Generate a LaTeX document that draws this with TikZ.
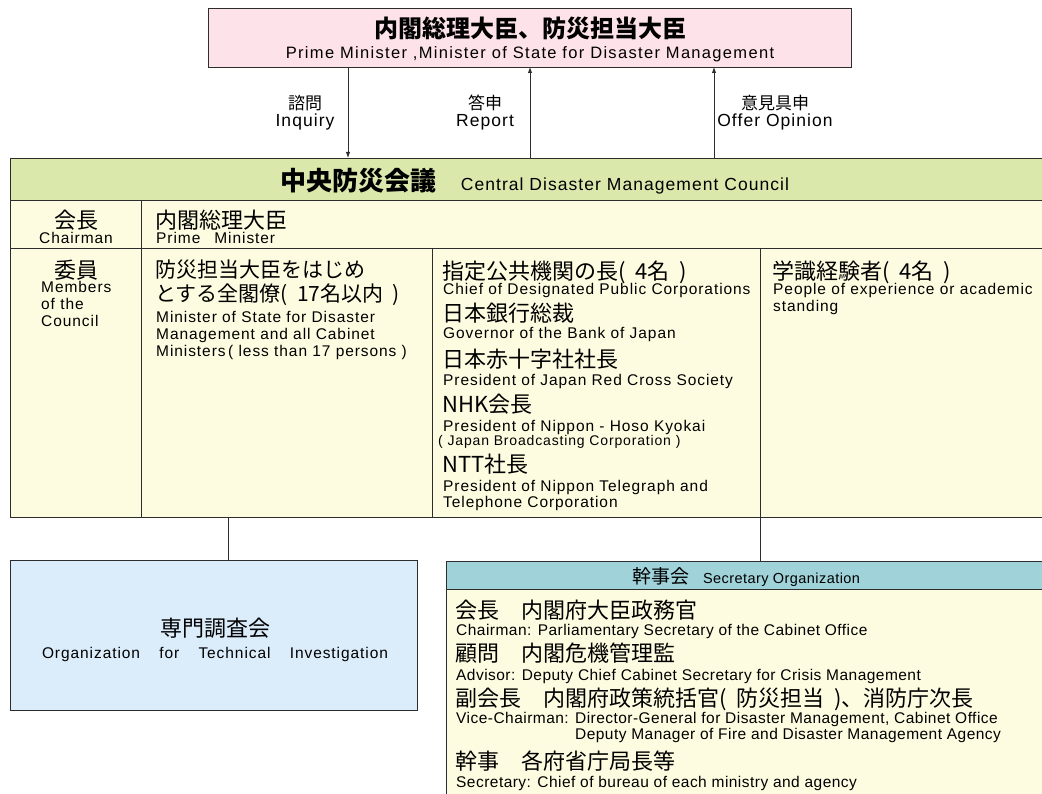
\documentclass[tikz,border=0pt]{standalone}
\usepackage{fontspec}
\setmainfont{Liberation Sans}
\newfontfamily\jpf{Noto Sans CJK JP}
\newfontfamily\enlf[LetterSpace=6]{Liberation Sans}
\newfontfamily\enwf[LetterSpace=8]{Liberation Sans}
\newfontfamily\enmf[LetterSpace=3]{Liberation Sans}
\usetikzlibrary{arrows.meta}
\definecolor{pinkfill}{RGB}{253,226,234}
\definecolor{greenhead}{RGB}{219,232,172}
\definecolor{yellowfill}{RGB}{254,252,224}
\definecolor{bluefill}{RGB}{219,236,250}
\definecolor{tealhead}{RGB}{159,210,217}
\definecolor{linec}{RGB}{45,45,45}
\newcommand\psp{\hspace{0.45em}}
\tikzset{
  box/.style={draw=linec, line width=1pt, inner sep=0pt, anchor=north west},
  conn/.style={draw=linec, line width=0.9pt},
  arr/.style={conn, -{Latex[length=6pt,width=4.5pt]}},
  tl/.style={anchor=base west, inner sep=0pt},
  tcn/.style={anchor=base, inner sep=0pt},
  jpb/.style={font=\jpf\fontsize{22}{24}\selectfont},
  jpm/.style={font=\jpf\fontsize{21}{24}\selectfont},
  jps/.style={font=\jpf\fontsize{17}{19}\selectfont},
  enb/.style={font=\enlf\fontsize{15.5}{17}\selectfont},
  enl/.style={font=\enlf\fontsize{17.5}{19}\selectfont},
  ens/.style={font=\enmf\fontsize{15.5}{17}\selectfont},
}
\begin{document}
\begin{tikzpicture}[x=1pt,y=-1pt]
\useasboundingbox (0,0) rectangle (1042,794);
% ---------- top box
\node[box, fill=pinkfill, minimum width=643pt, minimum height=59pt] (pm) at (208,8) {};
\node[tcn, font=\jpf\bfseries\fontsize{24}{26}\selectfont] (pmjp) at (530,38) {内閣総理大臣、防災担当大臣};
\node[tcn, font=\enwf\fontsize{16.5}{18}\selectfont] (pmen) at (530,59) {Prime Minister ,Minister of State for Disaster Management};
% ---------- council
\node[box, fill=yellowfill, minimum width=1035pt, minimum height=359pt] (council) at (10,158) {};
\node[box, fill=greenhead, minimum width=1035pt, minimum height=42pt] (chead) at (10,158) {};
\node[box, minimum width=1035pt, minimum height=48pt] (chrow) at (10,200) {};
\node[box, minimum width=1035pt, minimum height=269pt] (mrow) at (10,248) {};
\coordinate (d1t) at (141,200);
\coordinate (d2t) at (432,248);
\coordinate (d3t) at (760,248);
\draw[conn] (d1t) -- (d1t |- mrow.south);
\draw[conn] (d2t) -- (d2t |- mrow.south);
\draw[conn] (d3t) -- (d3t |- mrow.south);
\node[tcn] (cheadtxt) at (535,191) {{\jpf\bfseries\fontsize{26}{28}\selectfont 中央防災会議}\hspace{24pt}{\enlf\fontsize{17.5}{19}\selectfont Central Disaster Management Council}};
% arrows
\coordinate (a1) at (348,67);
\coordinate (a2) at (530,67);
\coordinate (a3) at (714,67);
\draw[arr] (a1) -- (a1 |- chead.north);
\draw[arr] (a2 |- chead.north) -- (a2);
\draw[arr] (a3 |- chead.north) -- (a3);
\node[tcn, jps] (l1a) at (305,110) {諮問};
\node[tcn, enl] (l1b) at (305,127) {Inquiry};
\node[tcn, jps] (l2a) at (485,110) {答申};
\node[tcn, enl] (l2b) at (485,127) {Report};
\node[tcn, jps] (l3a) at (775,110) {意見具申};
\node[tcn, enl] (l3b) at (775,127) {Offer Opinion};
% chairman row
\node[tcn, jpb] (kaicho) at (76,229) {会長};
\node[tcn, enb] (chairman) at (76,244) {Chairman};
\node[tl, jpb] (pmname) at (155,229) {内閣総理大臣};
\node[tl, enb] (pmnameen) at (156,244) {Prime\hspace{14pt}Minister};
% members column 1
\node[tcn, jpb] (iin) at (76,279) {委員};
\node[tl, enb] (mem1) at (41,293) {Members};
\node[tl, enb] (mem2) at (41,310) {of the};
\node[tl, enb] (mem3) at (41,327) {Council};
% column 2
\node[tl, jpm] (c2a) at (155,278) {防災担当大臣をはじめ};
\node[tl, jpm] (c2b) at (155,302) {とする全閣僚(\psp 17名以内\psp)};
\node[tl, enb] (c2c) at (156,323) {Minister of State for Disaster};
\node[tl, enb] (c2d) at (156,340) {Management and all Cabinet};
\node[tl, enb] (c2e) at (156,357) {Ministers\,( less than 17 persons )};
% column 3
\node[tl, jpb] (c3a) at (442,280) {指定公共機関の長(\psp 4名\psp)};
\node[tl, enb] (c3b) at (443,295) {Chief of Designated Public Corporations};
\node[tl, jpb] (c3c) at (442,322) {日本銀行総裁};
\node[tl, enb] (c3d) at (443,339) {Governor of the Bank of Japan};
\node[tl, jpb] (c3e) at (442,368) {日本赤十字社社長};
\node[tl, enb] (c3f) at (443,385) {President of Japan Red Cross Society};
\node[tl, jpb] (c3g) at (442,413) {NHK会長};
\node[tl, enb] (c3h) at (443,431) {President of Nippon - Hoso Kyokai};
\node[tl, font=\enlf\fontsize{14}{15}\selectfont] (c3i) at (438,445) {( Japan Broadcasting Corporation )};
\node[tl, jpb] (c3j) at (442,472) {NTT社長};
\node[tl, enb] (c3k) at (443,491) {President of Nippon Telegraph and};
\node[tl, enb] (c3l) at (443,507) {Telephone Corporation};
% column 4
\node[tl, jpb] (c4a) at (772,280) {学識経験者(\psp 4名\psp)};
\node[tl, enb] (c4b) at (773,295) {People of experience or academic};
\node[tl, enb] (c4c) at (773,312) {standing};
% ---------- technical investigation
\node[box, fill=bluefill, minimum width=407pt, minimum height=150pt] (tech) at (10,560) {};
\coordinate (j1) at (228,517);
\draw[conn] (j1) -- (j1 |- tech.north);
\node[tcn, jpb] (techjp) at (215,636) {専門調査会};
\node[tcn, enb] (techen) at (215,658) {\makebox[346pt][s]{Organization\hfill for\hfill Technical\hfill Investigation}};
% ---------- secretary organization
\node[box, fill=yellowfill, minimum width=600pt, minimum height=240pt] (sec) at (446,561) {};
\node[box, fill=tealhead, minimum width=600pt, minimum height=28pt] (sechead) at (446,561) {};
\coordinate (j2) at (760,517);
\draw[conn] (j2) -- (j2 |- sechead.north);
\node[tcn] (sechtxt) at (746,583) {{\jpf\fontsize{19}{21}\selectfont 幹事会}\hspace{14pt}{\enmf\fontsize{14.5}{16}\selectfont Secretary Organization}};
\node[tl, jpb] (s1a) at (455,618) {会長　内閣府大臣政務官};
\node[tl, ens] (s1b) at (456,635) {Chairman: Parliamentary Secretary of the Cabinet Office};
\node[tl, jpb] (s2a) at (455,661) {顧問　内閣危機管理監};
\node[tl, ens] (s2b) at (456,680) {Advisor: Deputy Chief Cabinet Secretary for Crisis Management};
\node[tl, jpb] (s3a) at (455,706) {副会長　内閣府政策統括官(\psp 防災担当\psp)、消防庁次長};
\node[tl, ens] (s3b) at (456,723) {Vice-Chairman: Director-General for Disaster Management, Cabinet Office};
\node[tl, ens] (s3c) at (456,739) {\phantom{Vice-Chairman: }Deputy Manager of Fire and Disaster Management Agency};
\node[tl, jpb] (s4a) at (455,769) {幹事　各府省庁局長等};
\node[tl, ens] (s4b) at (456,787) {Secretary: Chief of bureau of each ministry and agency};
\end{tikzpicture}
\end{document}
